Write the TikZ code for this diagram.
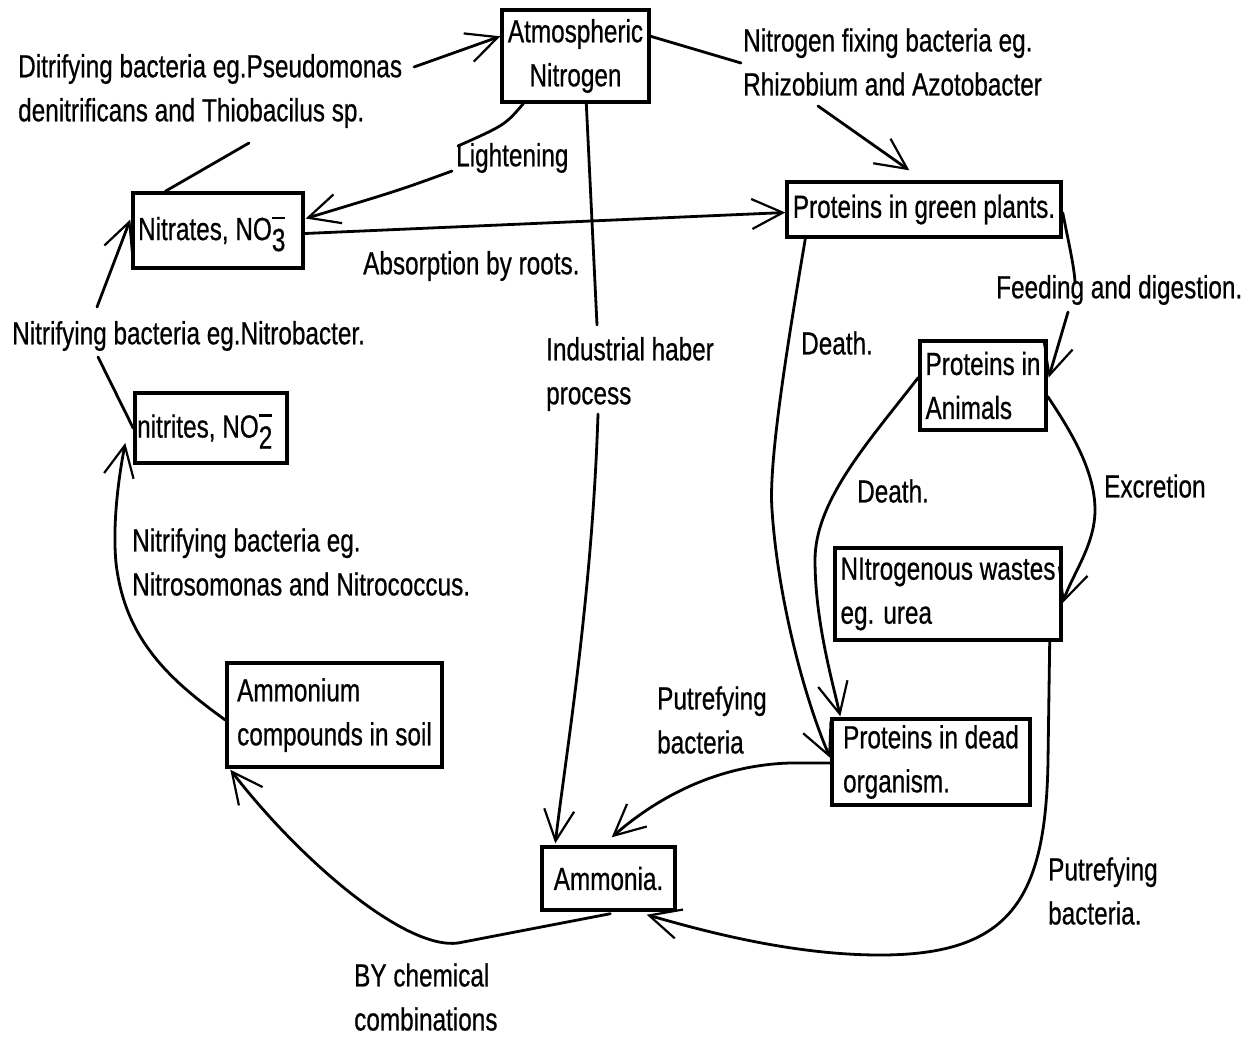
\documentclass[tikz,border=0pt]{standalone}
\usepackage{fontspec}
\setmainfont[FakeStretch=0.76,FakeBold=0.6]{Liberation Sans}
\usetikzlibrary{arrows.meta,calc}
\newcommand{\ionsub}[1]{\smash{\rlap{\raisebox{-11pt}{#1}}\raisebox{21pt}{\rule{13pt}{2.5pt}}}}
\begin{document}
\begin{tikzpicture}[x=1pt,y=-1pt,
  every node/.style={font=\fontsize{32}{44}\selectfont},
  box/.style={draw, line width=3.4pt, align=left, inner sep=0pt},
  lbl/.style={anchor=west, align=left, inner sep=0pt},
  conn/.style={line width=2.8pt, line cap=round, line join=round},
  arr/.style={conn, -{Straight Barb[length=31pt, width=30pt, line width=2.2pt]}}
]
\useasboundingbox (0,0) rectangle (1247,1037);

% boxes
\node[box, align=center, minimum width=147pt, minimum height=92pt] (atm) at (575.5,56) {Atmospheric\\Nitrogen};
\node[box, minimum width=170pt, minimum height=75pt] (nitrates) at (218,230.5) {Nitrates, NO\ionsub{3}\hspace{13pt}};
\node[box, minimum width=274pt, minimum height=55pt] (green) at (924,209.5) {Proteins in green plants.};
\node[box, minimum width=152pt, minimum height=70pt] (nitrites) at (211,428) {nitrites, NO\ionsub{2}\hspace{13pt}};
\node[box, minimum width=126pt, minimum height=89pt] (animals) at (983,385.5) {Proteins in\\Animals};
\node[box, minimum width=226pt, minimum height=92pt] (wastes) at (948,594) {NItrogenous wastes\\eg. urea};
\node[box, minimum width=215pt, minimum height=104pt] (ammonium) at (334.5,715) {Ammonium\\compounds in soil};
\node[box, minimum width=198pt, minimum height=86pt] (dead) at (931,762) {Proteins in dead\\organism.};
\node[box, minimum width=133pt, minimum height=63pt] (ammonia) at (608.5,878.5) {Ammonia.};

% labels
\node[lbl] (den) at (18,91) {Ditrifying bacteria eg.Pseudomonas\\denitrificans and Thiobacilus sp.};
\node[lbl] (nfix) at (743,62) {Nitrogen fixing bacteria eg.\\Rhizobium and Azotobacter};
\node[lbl] (light) at (456,158) {Lightening};
\node[lbl] (absorb) at (363,266) {Absorption by roots.};
\node[lbl] (feed) at (996,290) {Feeding and digestion.};
\node[lbl] (nitroA) at (12,336) {Nitrifying bacteria eg.Nitrobacter.};
\node[lbl] (haber) at (546,374) {Industrial haber\\process};
\node[lbl] (deathA) at (801,343) {Death.};
\node[lbl] (deathB) at (857,491) {Death.};
\node[lbl] (excr) at (1104,486) {Excretion};
\node[lbl] (nitroB) at (132,562) {Nitrifying bacteria eg.\\Nitrosomonas and Nitrococcus.};
\node[lbl] (putrA) at (657,720) {Putrefying\\bacteria};
\node[lbl] (putrB) at (1048,891) {Putrefying\\bacteria.};
\node[lbl] (chem) at (354,997) {BY chemical\\combinations};

% waypoints
\coordinate (d1) at (249,143);
\coordinate (d2) at (414,67);
\coordinate (l1) at (458,146);
\coordinate (l2) at (452,171);
\coordinate (nf1) at (741,63);
\coordinate (nf2) at (818,106);
\coordinate (h1) at (597,325);
\coordinate (h2) at (598,414);
\coordinate (f1) at (1075,282);
\coordinate (f2) at (1068,312);
\coordinate (g1) at (772,510);
\coordinate (a1) at (815,560);
\coordinate (e1) at (1095,510);
\coordinate (w1) at (1048,760);
\coordinate (w2) at (880,955);
\coordinate (p1) at (790,763);
\coordinate (c1) at (458,943);
\coordinate (m1) at (116,563);
\coordinate (n1) at (98,357);
\coordinate (n2) at (97,307);

% denitrification
\draw[conn] ($(nitrates.north west)+(34,0)$) -- (d1);
\draw[arr] (d2) -- ($(atm.north west)+(0,28)$);
% lightening
\draw[conn] ($(atm.south west)+(23,0)$) .. controls (505,125) .. (l1);
\draw[arr] (l2) .. controls (400,190) .. ($(nitrates.east)+(1,-12)$);
% absorption
\draw[arr] ($(nitrates.east)+(0,3)$) -- ($(green.west)+(0,3)$);
% nitrogen fixing
\draw[conn] ($(atm.north east)+(0,28)$) -- (nf1);
\draw[arr] (nf2) -- ($(green.north west)+(124,-10)$);
% haber
\draw[conn] ($(atm.south west)+(86,0)$) -- (h1);
\draw[arr] (h2) .. controls (592,600) and (565,760) .. ($(ammonia.north west)+(15,-2)$);
% feeding
\draw[conn] ($(green.east)+(0,3)$) .. controls (1068,240) and (1074,265) .. (f1);
\draw[arr] (f2) -- ($(animals.east)+(1,-8)$);
% green plants death
\draw[arr] ($(green.south west)+(20,0)$) .. controls (790,330) and (768,460) .. (g1)
   .. controls (778,600) and (805,700) .. ($(dead.west)+(0,-4)$);
% animals death
\draw[arr] ($(animals.west)+(0,-8)$) .. controls (870,440) and (815,500) .. (a1)
   .. controls (815,620) and (832,680) .. ($(dead.north west)+(10,-1)$);
% excretion
\draw[arr] ($(animals.east)+(0,11)$) .. controls (1070,430) and (1095,470) .. (e1)
   .. controls (1095,545) and (1072,575) .. ($(wastes.east)+(0,9)$);
% wastes -> ammonia
\draw[arr] ($(wastes.south east)+(-13,0)$) -- (w1) .. controls (1046,900) and (1010,955) .. (w2)
   .. controls (790,955) and (700,930) .. ($(ammonia.south east)+(-30,3)$);
% dead -> ammonia
\draw[arr] ($(dead.west)+(0,1)$) -- (p1) .. controls (720,765) and (660,795) .. ($(ammonia.north east)+(-65,-8)$);
% ammonia -> ammonium
\draw[arr] ($(ammonia.south west)+(70,2)$) -- (c1) .. controls (405,950) and (300,860) .. ($(ammonium.south west)+(5,1)$);
% ammonium -> nitrites
\draw[arr] ($(ammonium.west)+(0,5)$) .. controls (170,680) and (125,640) .. (m1)
   .. controls (112,520) and (120,470) .. ($(nitrites.west)+(-8,15)$);
% nitrites -> nitrates
\draw[conn] ($(nitrites.north west)+(0,37)$) -- (n1);
\draw[arr] (n2) -- ($(nitrates.west)+(-1,-11)$);
\end{tikzpicture}
\end{document}
